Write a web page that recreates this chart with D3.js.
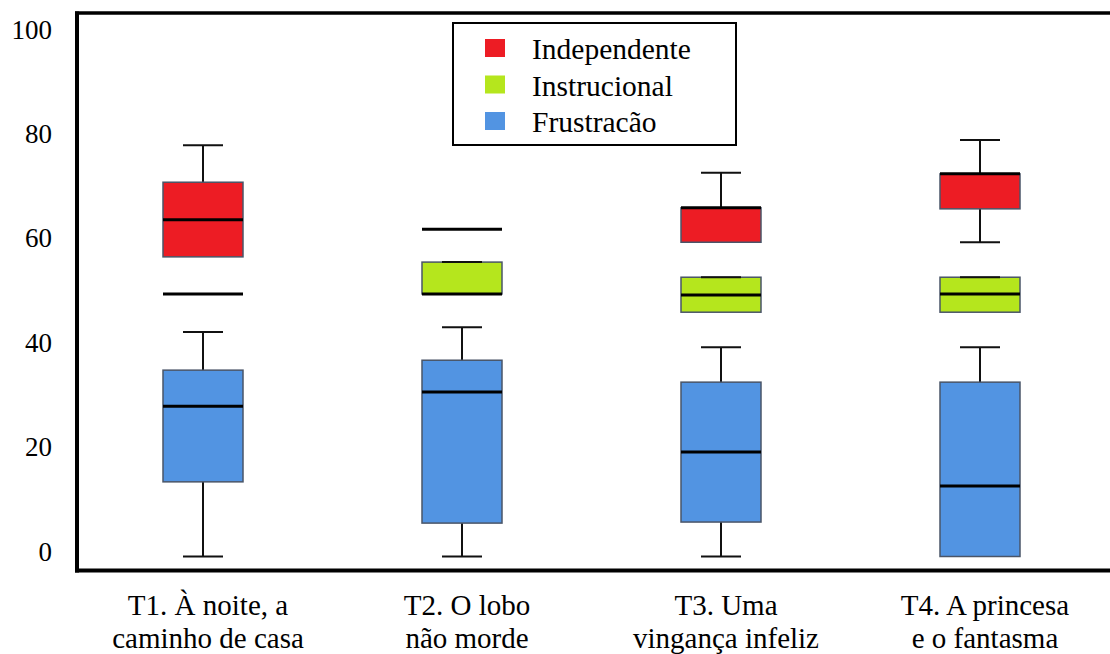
<!DOCTYPE html>
<html>
<head>
<meta charset="utf-8">
<script src="https://cdn.jsdelivr.net/npm/d3@7"></script>
<style>
  html, body { margin: 0; padding: 0; background: #fff; }
  svg { display: block; }
  svg text { font-family: "Liberation Serif", "Times New Roman", Times, "DejaVu Serif", serif; }
</style>
</head>
<body>
<svg id="chart" width="1110" height="654"></svg>
<script>
// ---- data ----
const categories = ["T1", "T2", "T3", "T4"];
const categoryLabels = [
  ["T1. À noite, a", "caminho de casa"],
  ["T2. O lobo", "não morde"],
  ["T3. Uma", "vingança infeliz"],
  ["T4. A princesa", "e o fantasma"]
];
const seriesNames = ["Independente", "Instrucional", "Frustracão"];
const seriesColors = ["#ED1C24", "#B5E61D", "#5294E2"];
// each entry: [min, q1, median, q3, max]
const independente = [
  [57.4, 57.4, 64.5, 71.7, 78.8],
  [62.7, 62.7, 62.7, 62.7, 62.7],
  [60.2, 60.2, 66.8, 66.8, 73.5],
  [60.2, 66.6, 73.3, 73.3, 79.8]
];
const instrucional = [
  [50.3, 50.3, 50.3, 50.3, 50.3],
  [50.3, 50.3, 50.3, 56.4, 56.4],
  [46.8, 46.8, 50.1, 53.5, 53.5],
  [46.8, 46.8, 50.3, 53.5, 53.5]
];
const frustracao = [
  [0, 14.3, 28.8, 35.7, 43.0],
  [0, 6.4, 31.5, 37.6, 43.9],
  [0, 6.6, 20.0, 33.4, 40.1],
  [0, 0, 13.5, 33.4, 40.1]
];
const yTicks = [0, 20, 40, 60, 80, 100];

// ---- layout ----
const svg = d3.select("#chart");
const font = "Liberation Serif";

const x = d3.scaleBand().domain(categories).range([73.5, 1109.5]).padding(0);
const y = d3.scaleLinear().domain([0, 100]).range([556.5, 34.5]);

const boxW = 80, capW = 40;

const allSeries = [independente, instrucional, frustracao];

allSeries.forEach((series, si) => {
  const g = svg.append("g");
  series.forEach((d, i) => {
    const cx = x(categories[i]) + x.bandwidth() / 2;
    const [mn, q1, med, q3, mx] = d;
    g.append("line").attr("x1", cx).attr("x2", cx).attr("y1", y(q3)).attr("y2", y(mx))
      .attr("stroke", "#111").attr("stroke-width", 2);
    g.append("line").attr("x1", cx).attr("x2", cx).attr("y1", y(q1)).attr("y2", y(mn))
      .attr("stroke", "#111").attr("stroke-width", 2);
    g.append("rect")
      .attr("x", cx - boxW / 2).attr("y", y(q3))
      .attr("width", boxW).attr("height", Math.max(0, y(q1) - y(q3)))
      .attr("fill", seriesColors[si])
      .attr("stroke", "#4a5568").attr("stroke-width", 1.5);
    if (mx > q3 || si === 1)
      g.append("line").attr("x1", cx - capW / 2).attr("x2", cx + capW / 2)
        .attr("y1", y(mx)).attr("y2", y(mx)).attr("stroke", "#111").attr("stroke-width", 2);
    if (mn < q1)
      g.append("line").attr("x1", cx - capW / 2).attr("x2", cx + capW / 2)
        .attr("y1", y(mn)).attr("y2", y(mn)).attr("stroke", "#111").attr("stroke-width", 2);
    g.append("line").attr("x1", cx - boxW / 2).attr("x2", cx + boxW / 2)
      .attr("y1", y(med)).attr("y2", y(med)).attr("stroke", "#000").attr("stroke-width", 3);
  });
});

// ---- frame ----
svg.append("line").attr("x1", 75).attr("x2", 1110).attr("y1", 13).attr("y2", 13)
  .attr("stroke", "#000").attr("stroke-width", 3.5);
svg.append("line").attr("x1", 77).attr("x2", 77).attr("y1", 11.5).attr("y2", 572.5)
  .attr("stroke", "#000").attr("stroke-width", 4);
svg.append("line").attr("x1", 75).attr("x2", 1110).attr("y1", 570.5).attr("y2", 570.5)
  .attr("stroke", "#000").attr("stroke-width", 4);

// ---- y axis labels ----
const yAxis = d3.axisLeft(y).tickValues(yTicks).tickSize(0).tickPadding(25).tickFormat(d3.format("d"));
const ya = svg.append("g").attr("transform", "translate(77,-5)").call(yAxis);
ya.select(".domain").remove();
ya.attr("font-family", null).attr("font-size", null);
ya.selectAll("text").style("font-family", font).style("font-size", "27px").attr("fill", "#000");

// ---- x labels ----
const xl = svg.append("g");
categories.forEach((c, i) => {
  const lx = x(c) + x.bandwidth() / 2 + 5;
  const t = xl.append("text")
    .attr("x", lx)
    .attr("y", 615)
    .attr("text-anchor", "middle")
    .style("font-family", font).style("font-size", "29px").attr("fill", "#000");
  categoryLabels[i].forEach((line, li) => {
    t.append("tspan").attr("x", lx).attr("dy", li === 0 ? 0 : 33).text(line);
  });
});

// ---- legend ----
const lg = svg.append("g");
lg.append("rect").attr("x", 453).attr("y", 23).attr("width", 283).attr("height", 122)
  .attr("fill", "#fff").attr("stroke", "#000").attr("stroke-width", 2);
seriesNames.forEach((name, i) => {
  const cy = 48 + i * 36.5;
  lg.append("rect").attr("x", 485).attr("y", cy - 9).attr("width", 20).attr("height", 18)
    .attr("fill", seriesColors[i]);
  lg.append("text").attr("x", 532).attr("y", cy + 11)
    .style("font-family", font).style("font-size", "29.5px").attr("fill", "#000").text(name);
});
</script>
</body>
</html>
